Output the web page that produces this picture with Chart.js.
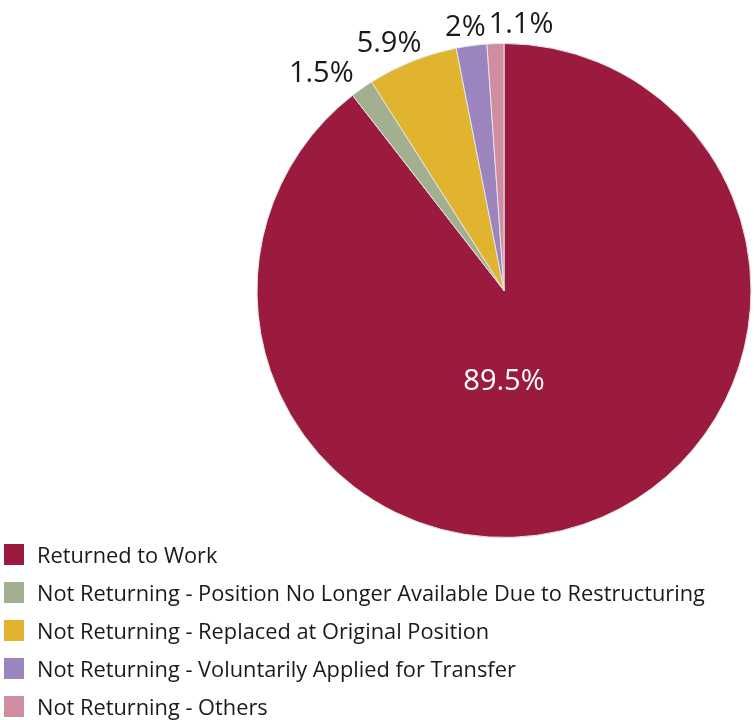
<!DOCTYPE html>
<html>
<head>
<meta charset="utf-8">
<script src="https://cdn.jsdelivr.net/npm/chart.js@4/dist/chart.umd.min.js"></script>
<style>
   body { margin: 0; background: #fff; }
   #wrap { position: relative; width: 754px; height: 720px; }
   #legend { position: absolute; left: 4px; top: 535px; font-family: "Open Sans", sans-serif; font-size: 21.8px; color: #1a1a1a; }
   #legend div { height: 38px; display: flex; align-items: center; white-space: nowrap; }
   #legend span.box { width: 20px; height: 21px; margin-right: 13px; display: inline-block; }
</style>
</head>
<body>
<div id="wrap">
   <canvas id="myChart" width="754" height="720"></canvas>
   <div id="legend"></div>
</div>
<script>
const categories = [
   "Returned to Work",
   "Not Returning - Position No Longer Available Due to Restructuring",
   "Not Returning - Replaced at Original Position",
   "Not Returning - Voluntarily Applied for Transfer",
   "Not Returning - Others",
];
const shares = [89.5, 1.5, 5.9, 2, 1.1];
const colors = ["#9b1b3f", "#a3b08f", "#e0b42f", "#9c85bf", "#ce8e9f"];

// percent labels: big slice inside, small ones outside the rim
const sliceLabels = {
   id: "sliceLabels",
   afterDatasetsDraw(chart) {
      const ctx = chart.ctx;
      const arcs = chart.getDatasetMeta(0).data;
      ctx.save();
      ctx.font = "29px 'Open Sans', sans-serif";
      ctx.textAlign = "center";
      ctx.textBaseline = "middle";
      let prevRight = null;
      arcs.forEach((arc, i) => {
         const txt = shares[i] + "%";
         const p = arc.getProps(["x", "y", "startAngle", "endAngle", "outerRadius"], true);
         const mid = (p.startAngle + p.endAngle) / 2;
         if (shares[i] > 50) {
            // big slice: label sits under the centre
            ctx.fillStyle = "#fff";
            ctx.fillText(txt, p.x, p.y + p.outerRadius * 0.37);
            return;
         }
         const w = ctx.measureText(txt).width;
         const h = 25;
         const dx = Math.cos(mid), dy = Math.sin(mid);
         const r = p.outerRadius + 6;
         let cx = p.x + dx * r + dx * w;
         let cy = p.y + dy * r + dy * h / 2;
         // push right if it runs into the previous label
         if (prevRight !== null && cx - w / 2 < prevRight + 3) cx = prevRight + 3 + w / 2;
         prevRight = cx + w / 2;
         ctx.fillStyle = "#1a1a1a";
         ctx.fillText(txt, cx, cy);
      });
      ctx.restore();
   },
};

new Chart(document.getElementById("myChart"), {
   type: "pie",
   data: {
      labels: categories,
      datasets: [
         {
            data: shares,
            backgroundColor: colors,
            borderColor: "#e4e4e4",
            borderWidth: 1,
         },
      ],
   },
   options: {
      responsive: false,
      animation: false,
      layout: { padding: { left: 255, right: 1, top: 43, bottom: 182 } },
      plugins: { legend: { display: false }, tooltip: { enabled: false } },
   },
   plugins: [sliceLabels],
});

let legend = document.getElementById("legend");
categories.forEach((name, i) => {
   let row = document.createElement("div");
   let box = document.createElement("span");
   box.className = "box";
   box.style.background = colors[i];
   row.append(box);
   row.append(name);
   legend.append(row);
});
</script>
</body>
</html>
